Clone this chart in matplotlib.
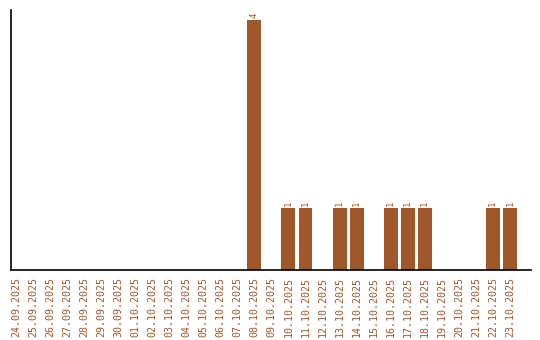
import matplotlib
matplotlib.use("Agg")
import matplotlib.pyplot as plt

dates = ["24.09.2025", "25.09.2025", "26.09.2025", "27.09.2025", "28.09.2025",
         "29.09.2025", "30.09.2025", "01.10.2025", "02.10.2025", "03.10.2025",
         "04.10.2025", "05.10.2025", "06.10.2025", "07.10.2025", "08.10.2025",
         "09.10.2025", "10.10.2025", "11.10.2025", "12.10.2025", "13.10.2025",
         "14.10.2025", "15.10.2025", "16.10.2025", "17.10.2025", "18.10.2025",
         "19.10.2025", "20.10.2025", "21.10.2025", "22.10.2025", "23.10.2025"]
counts = [0, 0, 0, 0, 0, 0, 0, 0, 0, 0, 0, 0, 0, 0, 4,
          0, 1, 1, 0, 1, 1, 0, 1, 1, 1, 0, 0, 0, 1, 1]

color = "#A0572A"
fig = plt.figure(figsize=(5.4, 3.4), dpi=100)
ax = fig.add_axes([11/540, 70/340, 520/540, 260/340])
x = list(range(len(dates)))
ax.bar(x, counts, width=0.82, color=color)
for xi, v in zip(x, counts):
    if v > 0:
        ax.text(xi, v + 0.03, str(v), rotation=90, ha="center", va="bottom",
                fontsize=6.5, color=color, family="DejaVu Sans Mono")
ax.set_xlim(-0.29, 30.24)
ax.set_ylim(0, 4.16)
ax.set_xticks(x)
ax.set_xticklabels(dates, rotation=90, fontsize=7.2, color=color, family="DejaVu Sans Mono")
ax.tick_params(axis="x", length=0, pad=5)
ax.set_yticks([])
for s in ["top", "right"]:
    ax.spines[s].set_visible(False)
ax.spines["left"].set_linewidth(1.2)
ax.spines["bottom"].set_linewidth(1.2)
fig.savefig("out.png", dpi=100)
